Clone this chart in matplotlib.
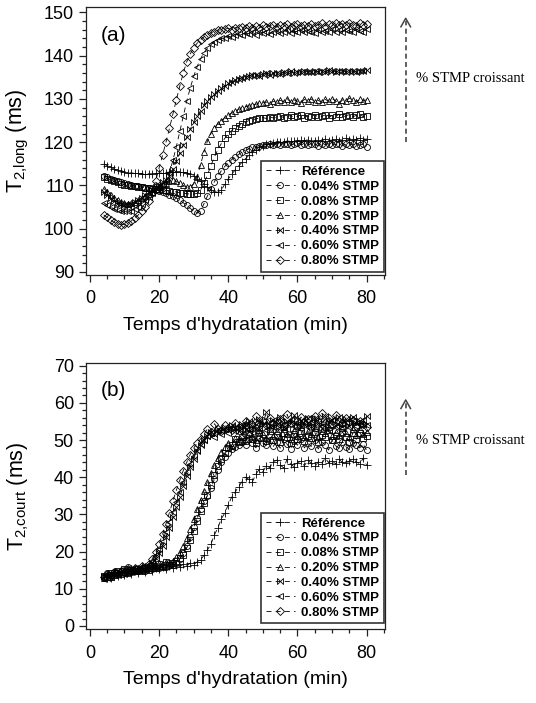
import matplotlib
matplotlib.use("Agg")
import matplotlib.pyplot as plt
from matplotlib.path import Path
from matplotlib.lines import Line2D
from matplotlib.ticker import MultipleLocator

plt.rcParams['font.family'] = ['Liberation Sans', 'DejaVu Sans']
plt.rcParams['mathtext.fontset'] = 'custom'
plt.rcParams['mathtext.rm'] = 'Liberation Sans'

# ---------------- data ----------------
time_min = [4, 5, 6, 7, 8, 9, 10, 11, 12, 13,
            14, 15, 16, 17, 18, 19, 20, 21, 22, 23,
            24, 25, 26, 27, 28, 29, 30, 31, 32, 33,
            34, 35, 36, 37, 38, 39, 40, 41, 42, 43,
            44, 45, 46, 47, 48, 49, 50, 51, 52, 53,
            54, 55, 56, 57, 58, 59, 60, 61, 62, 63,
            64, 65, 66, 67, 68, 69, 70, 71, 72, 73,
            74, 75, 76, 77, 78, 79, 80]

labels = ['Référence', '0.04% STMP', '0.08% STMP', '0.20% STMP',
          '0.40% STMP', '0.60% STMP', '0.80% STMP']

# Panel (a): T2,long (ms)
long_ref = [115.0, 114.6, 114.2, 113.8, 113.5, 113.3, 113.1, 113.0, 112.9, 112.8,
            112.8, 112.7, 112.7, 112.7, 112.7, 112.8, 112.8, 112.9, 113.0, 113.1,
            113.2, 113.2, 113.2, 113.1, 112.9, 112.6, 112.2, 111.6, 111.0, 110.3,
            109.6, 109.0, 108.6, 108.4, 109.0, 110.3, 111.5, 112.6, 113.6, 114.5,
            115.4, 116.2, 117.0, 117.7, 118.3, 118.8, 119.2, 119.5, 119.7, 119.9,
            120.0, 120.1, 120.0, 120.3, 120.2, 120.4, 120.2, 120.5, 120.3, 120.6,
            120.2, 120.4, 120.6, 120.3, 120.7, 120.4, 120.5, 120.8, 120.4, 120.6,
            120.9, 120.5, 120.7, 120.6, 120.9, 120.5, 120.8]
long_004 = [112.3, 112.0, 111.6, 111.3, 111.0, 110.7, 110.5, 110.3, 110.1, 109.9,
            109.8, 109.6, 109.5, 109.4, 109.2, 109.0, 108.8, 108.5, 108.2, 107.9,
            107.5, 107.1, 106.6, 106.0, 105.4, 104.7, 104.1, 103.6, 104.2, 105.8,
            107.6, 109.3, 110.9, 112.2, 113.4, 114.4, 115.2, 116.0, 116.6, 117.2,
            117.7, 118.1, 118.5, 118.8, 119.0, 119.2, 119.3, 119.4, 119.5, 119.3,
            119.6, 119.4, 119.7, 119.5, 119.3, 119.6, 119.8, 119.4, 119.6, 119.3,
            119.7, 119.5, 119.2, 119.6, 119.4, 119.7, 119.3, 119.5, 119.6, 119.2,
            119.5, 119.3, 119.6, 119.2, 119.4, 119.5, 119.0]
long_008 = [112.0, 111.6, 111.3, 111.0, 110.7, 110.4, 110.2, 110.0, 109.9, 109.8,
            109.7, 109.6, 109.5, 109.4, 109.3, 109.2, 109.1, 109.0, 108.9, 108.8,
            108.6, 108.5, 108.3, 108.2, 108.1, 108.0, 108.0, 108.2, 109.0, 110.5,
            112.5, 114.6, 116.6, 118.3, 119.7, 120.9, 121.9, 122.7, 123.3, 123.8,
            124.3, 124.7, 125.0, 125.2, 125.4, 125.6, 125.7, 125.5, 125.9, 125.6,
            125.8, 126.1, 125.7, 125.9, 126.2, 125.8, 126.0, 126.3, 125.7, 126.1,
            125.9, 126.4, 125.8, 126.0, 126.3, 125.7, 126.2, 125.9, 126.5, 125.8,
            126.1, 126.4, 125.9, 126.2, 126.6, 125.9, 126.1]
long_020 = [109.3, 108.6, 107.9, 107.2, 106.6, 106.2, 105.9, 105.8, 105.9, 106.2,
            106.6, 107.1, 107.6, 108.1, 108.6, 109.1, 109.6, 110.1, 110.6, 111.0,
            111.2, 111.0, 110.5, 110.0, 109.6, 109.6, 110.4, 112.0, 114.8, 117.8,
            120.3, 122.0, 123.3, 124.3, 125.0, 125.7, 126.2, 126.8, 127.2, 127.6,
            127.9, 128.2, 128.4, 128.6, 128.8, 129.0, 129.1, 129.3, 128.9, 129.5,
            129.2, 129.7, 129.4, 130.1, 129.3, 129.8, 129.5, 129.1, 129.9, 129.6,
            130.0, 129.4, 129.7, 129.2, 129.9, 129.5, 130.1, 129.6, 128.9, 129.8,
            129.5, 130.2, 129.7, 129.4, 129.9, 129.6, 129.8]
long_040 = [108.5, 107.7, 107.0, 106.4, 106.0, 105.7, 105.5, 105.5, 105.7, 106.1,
            106.6, 107.2, 107.8, 108.4, 109.0, 109.6, 110.2, 110.8, 111.3, 112.3,
            113.8, 115.6, 117.5, 119.4, 121.2, 123.0, 124.6, 126.0, 127.3, 128.5,
            129.5, 130.4, 131.2, 131.9, 132.5, 133.1, 133.6, 134.0, 134.3, 134.7,
            134.9, 135.1, 135.3, 135.5, 135.6, 135.2, 135.8, 135.9, 135.6, 136.0,
            136.1, 135.8, 136.2, 135.9, 136.5, 136.0, 136.3, 136.2, 136.4, 136.3,
            136.2, 136.5, 136.3, 136.4, 136.3, 136.6, 136.4, 136.3, 136.5, 136.4,
            136.3, 136.5, 136.4, 136.3, 136.5, 136.4, 136.8]
long_060 = [106.0, 105.5, 105.0, 104.6, 104.3, 104.1, 104.0, 104.0, 104.2, 104.6,
            105.1, 105.8, 106.6, 107.4, 108.2, 109.0, 109.6, 110.2, 111.0, 113.0,
            115.8, 119.0, 122.5, 126.0, 129.5, 132.5, 135.2, 137.5, 139.3, 140.7,
            141.8, 142.6, 143.2, 143.6, 144.0, 144.2, 144.5, 144.3, 144.8, 145.0,
            144.7, 145.2, 145.0, 145.4, 144.9, 145.5, 145.3, 145.6, 145.1, 145.5,
            145.8, 145.3, 145.6, 145.9, 145.2, 145.7, 145.5, 145.9, 145.4, 145.8,
            145.6, 145.3, 146.0, 145.5, 145.8, 145.4, 146.1, 145.6, 145.9, 145.5,
            146.0, 145.7, 145.4, 146.1, 145.8, 145.6, 146.2]
long_080 = [103.2, 102.6, 102.0, 101.5, 101.2, 100.9, 101.0, 101.3, 101.8, 102.4,
            103.2, 104.0, 105.0, 106.3, 108.3, 111.0, 114.0, 117.0, 120.0, 123.2,
            126.5, 129.8, 133.0, 136.0, 138.6, 140.4, 141.8, 142.9, 143.7, 144.4,
            144.9, 145.3, 145.6, 145.9, 146.0, 146.2, 146.3, 146.0, 146.5, 146.4,
            146.7, 146.3, 146.8, 146.5, 146.9, 146.4, 147.0, 146.6, 146.9, 147.2,
            146.6, 147.1, 146.8, 147.3, 146.7, 147.0, 147.4, 146.8, 147.1, 146.9,
            147.3, 146.8, 147.2, 147.5, 146.9, 147.3, 147.0, 147.6, 147.1, 147.4,
            147.0, 147.6, 147.2, 146.9, 147.5, 147.2, 147.4]

# Panel (b): T2,court (ms)
court_ref = [13.2, 13.8, 12.9, 14.1, 13.5, 14.3, 13.7, 14.6, 14.0, 14.8,
             14.3, 15.1, 14.6, 15.3, 14.9, 15.6, 15.2, 15.8, 15.4, 16.0,
             15.7, 16.3, 15.9, 16.6, 16.2, 16.9, 16.5, 17.2, 17.8, 19.0,
             20.5, 22.0, 24.5, 26.4, 28.8, 30.4, 32.6, 34.7, 36.0, 37.5,
             38.8, 40.0, 39.4, 38.8, 40.9, 42.1, 41.5, 43.0, 42.6, 44.1,
             44.6, 43.3, 42.5, 44.8, 43.6, 42.8, 43.9, 44.3, 43.1, 44.5,
             43.8, 42.9, 44.1, 43.5, 45.2, 43.9, 44.4, 43.6, 44.8, 44.0,
             43.7, 44.3, 44.9, 44.1, 43.6, 45.1, 43.2]
court_004 = [13.0, 14.2, 13.6, 14.5, 13.9, 14.8, 14.2, 15.9, 14.6, 15.2,
             14.7, 15.5, 14.9, 15.8, 15.2, 16.1, 15.6, 16.4, 15.9, 16.8,
             16.4, 17.0, 18.0, 19.5, 21.5, 23.8, 26.5, 29.0, 31.5, 33.5,
             35.0, 37.0, 39.5, 42.0, 44.0, 45.5, 46.5, 47.5, 48.0, 48.6,
             49.6, 48.8, 50.3, 49.1, 47.9, 50.5, 49.2, 48.6, 50.1, 48.3,
             49.5, 47.8, 50.2, 48.9, 47.5, 49.8, 48.6, 50.4, 47.9, 49.1,
             48.3, 50.0, 47.6, 49.4, 48.8, 47.3, 49.9, 48.5, 47.8, 49.6,
             48.2, 47.5, 49.3, 48.7, 47.9, 48.9, 47.2]
court_008 = [13.5, 13.1, 14.3, 13.8, 14.9, 14.1, 15.4, 14.5, 15.0, 14.7,
             15.3, 14.9, 15.7, 15.1, 16.2, 15.5, 16.6, 15.9, 17.1, 16.3,
             16.8, 17.4, 18.2, 19.2, 21.0, 23.0, 25.5, 28.3, 30.8, 33.0,
             35.2, 37.8, 40.6, 43.0, 45.0, 46.5, 47.9, 48.6, 50.2, 49.4,
             50.8, 49.7, 51.5, 50.2, 49.3, 51.9, 50.6, 49.8, 52.3, 50.1,
             51.4, 49.6, 52.0, 50.7, 49.2, 51.6, 50.3, 52.4, 49.8, 51.2,
             50.5, 52.1, 49.5, 51.3, 50.8, 52.6, 49.9, 51.0, 50.4, 52.2,
             50.7, 49.6, 51.8, 50.2, 52.0, 50.6, 51.1]
court_020 = [12.8, 13.9, 13.3, 14.6, 14.0, 14.4, 15.1, 14.3, 15.6, 14.9,
             15.4, 15.0, 16.0, 15.6, 16.5, 15.8, 16.9, 16.2, 17.3, 16.7,
             17.6, 18.5, 19.8, 21.5, 23.6, 26.0, 28.7, 31.4, 34.0, 36.4,
             38.8, 41.2, 43.4, 45.3, 46.8, 48.0, 49.3, 48.5, 50.6, 49.8,
             51.4, 50.3, 52.2, 51.0, 49.9, 52.7, 51.5, 50.6, 53.1, 51.2,
             52.4, 50.8, 53.0, 51.6, 50.4, 52.8, 51.1, 53.4, 50.9, 52.3,
             51.5, 53.2, 50.7, 52.5, 51.8, 53.6, 51.0, 52.1, 51.4, 53.3,
             51.9, 50.8, 52.9, 51.3, 53.0, 51.7, 52.2]
court_040 = [13.4, 12.9, 14.0, 13.6, 14.7, 14.2, 15.0, 14.5, 15.3, 14.8,
             15.6, 15.1, 16.2, 15.7, 17.0, 18.2, 19.6, 21.5, 23.8, 26.4,
             29.2, 32.0, 34.8, 37.6, 40.3, 42.8, 45.0, 47.0, 48.6, 50.0,
             51.2, 52.1, 51.5, 53.0, 52.4, 53.6, 52.8, 54.1, 53.2, 52.5,
             54.4, 53.1, 55.0, 53.7, 52.9, 55.6, 54.2, 57.5, 53.8, 55.3,
             54.0, 56.2, 53.5, 55.1, 54.6, 56.8, 53.9, 55.4, 54.3, 56.0,
             53.7, 55.8, 54.5, 53.2, 56.4, 54.8, 55.5, 53.9, 56.1, 54.2,
             55.7, 53.8, 56.3, 54.6, 55.2, 54.0, 56.5]
court_060 = [12.6, 13.7, 13.2, 14.4, 13.8, 15.1, 14.1, 14.9, 14.4, 15.5,
             15.0, 15.9, 15.4, 16.3, 17.6, 19.0, 20.8, 22.9, 25.3, 28.0,
             30.6, 33.4, 36.1, 38.8, 41.3, 43.6, 45.7, 47.4, 48.9, 50.1,
             51.0, 51.8, 50.9, 52.6, 51.7, 53.1, 52.0, 53.5, 52.3, 53.9,
             52.6, 54.2, 53.0, 52.1, 54.7, 53.3, 55.1, 52.8, 54.5, 53.6,
             55.0, 53.2, 54.3, 52.9, 55.4, 53.7, 54.8, 53.0, 54.6, 53.4,
             54.9, 53.1, 55.2, 53.8, 54.1, 52.7, 55.5, 53.6, 54.4, 53.3,
             54.8, 53.5, 55.0, 53.9, 54.2, 55.3, 54.0]
court_080 = [13.1, 14.0, 13.4, 14.6, 13.9, 14.8, 14.4, 15.2, 14.7, 15.6,
             15.1, 16.0, 15.5, 16.7, 18.0, 19.8, 22.0, 24.6, 27.5, 30.5,
             33.6, 36.5, 39.2, 41.8, 44.0, 46.1, 47.8, 49.2, 50.3, 51.6,
             53.0, 52.2, 54.4, 53.1, 52.5, 54.0, 53.3, 52.7, 54.6, 53.4,
             52.8, 55.0, 53.6, 54.3, 56.5, 53.9, 55.2, 54.0, 55.8, 54.7,
             53.5, 55.6, 54.1, 56.9, 54.5, 55.3, 53.8, 56.2, 54.9, 55.7,
             54.2, 56.5, 55.0, 57.3, 54.6, 55.9, 54.3, 56.7, 55.1, 54.5,
             56.0, 54.8, 55.5, 53.9, 55.2, 54.4, 53.6]

series_a = [long_ref, long_004, long_008, long_020, long_040, long_060, long_080]
series_b = [court_ref, court_004, court_008, court_020, court_040, court_060, court_080]

# ---------------- style ----------------
bowtie = Path([(-1, 1), (-1, -1), (1, 1), (1, -1), (-1, 1)],
              [Path.MOVETO, Path.LINETO, Path.LINETO, Path.LINETO, Path.CLOSEPOLY])
markers = ['+', 'o', 's', '^', bowtie, '<', 'D']
msizes = [5.5, 4.3, 4.1, 4.6, 4.3, 4.6, 3.6]

W, H = 536, 703
fig = plt.figure(figsize=(W / 100, H / 100), dpi=100)


def fx(px):
    return px / W


def fy(py):
    return 1 - py / H


def panel(rect_px, series, ylim, ymajor, yminor, ylabel, tag, legend_anchor):
    l, t, r, b = rect_px
    ax = fig.add_axes([fx(l), fy(b), fx(r) - fx(l), fy(t) - fy(b)])
    for vals, m, ms, lab in zip(series, markers, msizes, labels):
        ax.plot(time_min, vals, linestyle=(0, (6, 5)), color='black', lw=0.6,
                marker=m, markersize=ms, markerfacecolor='none',
                markeredgecolor='black', markeredgewidth=0.6, label=lab)
    ax.set_xlim(-1.2, 85.3)
    ax.set_ylim(*ylim)
    ax.xaxis.set_major_locator(MultipleLocator(20))
    ax.xaxis.set_minor_locator(MultipleLocator(5))
    ax.yaxis.set_major_locator(MultipleLocator(ymajor))
    ax.yaxis.set_minor_locator(MultipleLocator(yminor))
    ax.tick_params(which='both', direction='out', labelsize=13, width=0.9, color='#222222')
    ax.tick_params(which='major', length=5)
    ax.tick_params(which='minor', length=3)
    ax.tick_params(axis='x', pad=6)
    for s in ax.spines.values():
        s.set_linewidth(0.9)
        s.set_color('#222222')
    ax.set_xlabel("Temps d'hydratation (min)", fontsize=14, labelpad=7)
    ax.set_ylabel(ylabel, fontsize=15.5)
    ax.yaxis.set_label_coords((31 - l) / (r - l), 0.5)
    ax.text(0.05, 0.93, tag, transform=ax.transAxes, fontsize=15, ha='left', va='top')
    leg = ax.legend(loc='lower right', bbox_to_anchor=legend_anchor, borderaxespad=0,
                    prop={'weight': 'bold', 'size': 9.5}, handlelength=2.2,
                    handletextpad=0.5, labelspacing=0.2, borderpad=0.35,
                    fancybox=False, framealpha=1)
    leg.get_frame().set_edgecolor('#333333')
    leg.get_frame().set_linewidth(1.2)
    return ax


ax_a = panel((85.7, 7.3, 385, 275), series_a, (89.3, 151.2), 10, 2,
             r'$\mathregular{T_{2{,}long}}$ (ms)', '(a)', (0.997, 0.012))
ax_b = panel((85.7, 362.7, 385, 629.3), series_b, (-0.9, 70.8), 10, 2,
             r'$\mathregular{T_{2{,}court}}$ (ms)', '(b)', (0.997, 0.022))


def arrow(x, y_top, y_bot, text_y):
    fig.add_artist(Line2D([fx(x), fx(x)], [fy(y_bot), fy(y_top + 3)],
                          transform=fig.transFigure, color='#444444', lw=1.2,
                          linestyle=(0, (3, 2))))
    fig.add_artist(Line2D([fx(x - 4.8), fx(x), fx(x + 4.8)],
                          [fy(y_top + 8.5), fy(y_top), fy(y_top + 8.5)],
                          transform=fig.transFigure, color='#444444', lw=1.1))
    fig.text(fx(416), fy(text_y), '% STMP croissant', fontsize=10.5,
             family=['Liberation Serif', 'DejaVu Serif'], ha='left', va='center')


arrow(405.7, 18.3, 141.7, 79)
arrow(405.7, 400, 475, 440)

fig.savefig('out.png', dpi=100)
